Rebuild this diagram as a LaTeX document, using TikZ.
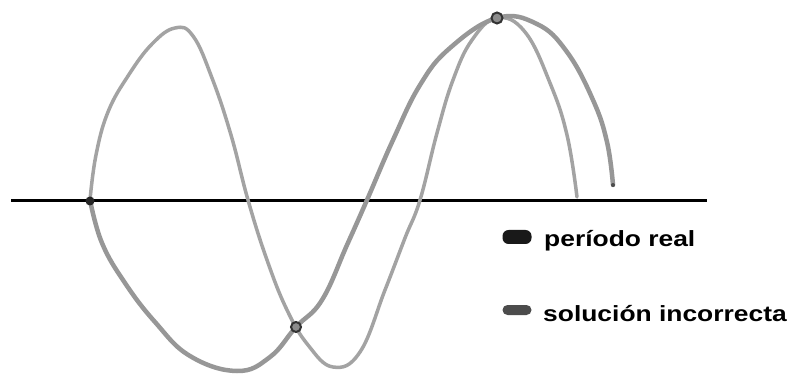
\documentclass[tikz,border=0pt]{standalone}
\usepackage{fontspec}
\setmainfont{Liberation Sans}
\usetikzlibrary{calc}
\definecolor{lightcurve}{HTML}{A3A3A3}
\definecolor{darkcurve}{HTML}{979797}
\tikzset{
  axisline/.style={line width=3pt, black},
  curveA/.style={line width=3.5pt, lightcurve, line cap=round, line join=round},
  curveB/.style={line width=4.5pt, darkcurve, line cap=round, line join=round},
  ringmark/.style={circle, draw=black!80, line width=2pt, fill=black!45, inner sep=0pt, minimum size=10pt},
  legendtext/.style={anchor=base west, inner sep=0pt, font=\bfseries\fontsize{22pt}{26pt}\selectfont},
}
\begin{document}
\begin{tikzpicture}[x=1pt,y=-1pt]
\useasboundingbox[fill=white] (0,0) rectangle (789,379);
% axis
\coordinate (axL) at (11,201);
\coordinate (axR) at (707,201);
\draw[axisline] (axL) -- (axR);
% incorrect solution (shorter period)
\draw[curveA] plot[smooth, tension=0.7] coordinates {
 (90,200) (96,155) (108,112) (128,76) (152,44) (175,28) (193,36)
 (212,78) (231,135) (248,200) (267,260) (287,310) (308,345) (333,367)
 (360,352) (385,290) (405,238) (420,200) (437,133) (453,80) (472,40) (497,18)
 (525,32) (550,83) (567,135) (577,197)};
% real period
\draw[curveB] plot[smooth, tension=0.7] coordinates {
 (90,200) (102,243) (125,283) (155,322) (190,356) (237,371)
 (270,357) (296,327) (322,300) (347,245) (367,200) (393,140) (420,85)
 (450,48) (497,18) (537,24) (567,52) (593,100) (607,142) (613,185)};
% markers
\node[circle, fill=black!85, inner sep=0pt, minimum size=9pt] (m1) at (90,201) {};
\node[ringmark] (m2) at (296,327) {};
\node[ringmark, minimum size=11pt] (m3) at (497,18) {};
\node[circle, fill=black!70, inner sep=0pt, minimum size=4pt] (m4) at (613,185) {};
% legend
\node[rounded corners=6pt, fill=black!90, minimum width=29pt, minimum height=14pt, inner sep=0pt] (k1) at (517,237) {};
\node[rounded corners=5pt, fill=black!70, minimum width=29pt, minimum height=10pt, inner sep=0pt] (k2) at (517,310) {};
\node[legendtext] (t1) at (544,247) {\scalebox{1.2}[1]{período real}};
\node[legendtext] (t2) at (543,321) {\scalebox{1.2}[1]{solución incorrecta}};
\end{tikzpicture}
\end{document}
